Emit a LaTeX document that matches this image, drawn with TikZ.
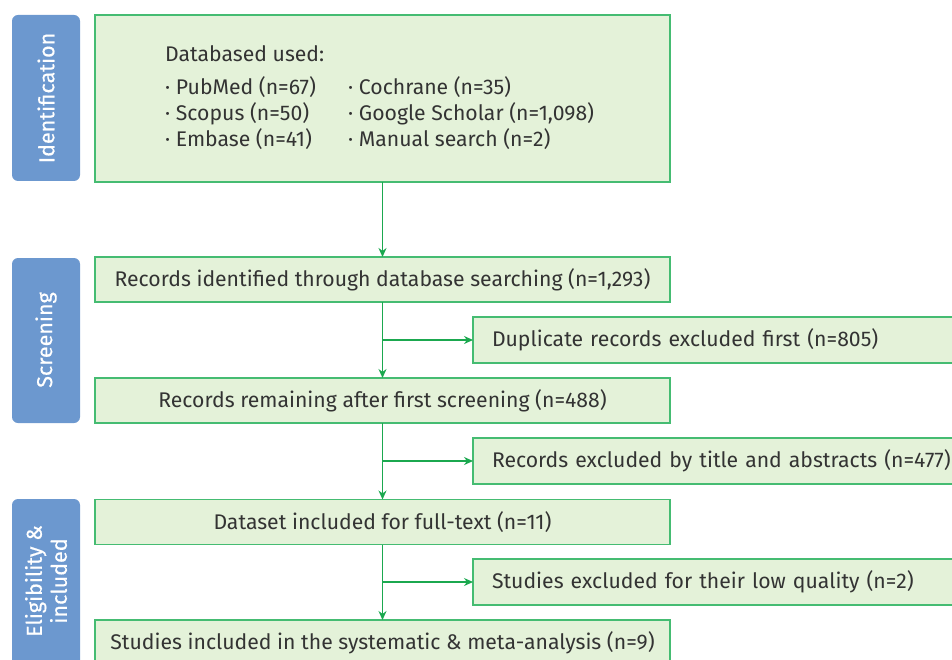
\documentclass[tikz,border=0pt]{standalone}
\usepackage{fontspec}
\setmainfont{Fira Sans}
\usetikzlibrary{arrows.meta}
\definecolor{boxfill}{HTML}{E4F2D9}
\definecolor{boxline}{HTML}{45BC72}
\definecolor{arrowc}{HTML}{1BA84F}
\definecolor{tabc}{HTML}{6C98CF}
\definecolor{txt}{HTML}{333333}
\tikzset{
  gbox/.style={draw=boxline, line width=1.8pt, fill=boxfill, text=txt, font=\fontsize{21.2}{25}\selectfont, inner sep=0pt, outer sep=0pt},
  tabbox/.style={fill=tabc, rounded corners=6pt, inner sep=0pt, outer sep=0pt},
  tabtxt/.style={text=white, font=\fontsize{21.5}{24}\selectfont\addfontfeature{FakeBold=0.4}, rotate=90, align=center},
  flow/.style={draw=arrowc, line width=1.4pt, -{Stealth[length=9pt,width=8pt]}},
  txtn/.style={text=txt, font=\fontsize{21.2}{25}\selectfont, inner sep=0pt, anchor=base west}
}
\begin{document}
\begin{tikzpicture}[x=1pt,y=-1pt]
\useasboundingbox (0,0) rectangle (952,660);
\clip (0,0) rectangle (952,660);
% tabs
\path[tabbox] (12,15) rectangle (80,181);
\node[tabtxt] (tid) at (46,98) {Identification};
\path[tabbox] (12,258) rectangle (80,423);
\node[tabtxt] (tsc) at (46,340) {Screening};
\path[tabbox] (12,499) rectangle (80,680);
\node[tabtxt, font=\fontsize{21.5}{25}\selectfont\addfontfeature{FakeBold=0.4}] (tel) at (46,581) {Eligibility \&\\included};
% identification box
\path[gbox] (95,15) rectangle (670,182);
\coordinate (idbot) at (382.5,182);
\node[txtn] (db) at (165,62) {Databased used:};
\node[txtn] (a1) at (165,95) {· PubMed (n=67)};
\node[txtn] (a2) at (165,121) {· Scopus (n=50)};
\node[txtn] (a3) at (165,147) {· Embase (n=41)};
\node[txtn] (b1) at (348,95) {· Cochrane (n=35)};
\node[txtn] (b2) at (348,121) {· Google Scholar (n=1,098)};
\node[txtn] (b3) at (348,147) {· Manual search (n=2)};
% main boxes
\node[gbox, minimum width=575pt, minimum height=45pt] (r1) at (382.5,279.5) {Records identified through database searching (n=1,293)};
\node[gbox, minimum width=575pt, minimum height=45pt] (r2) at (382.5,400.5) {Records remaining after first screening (n=488)};
\node[gbox, minimum width=575pt, minimum height=45pt] (r3) at (382.5,522) {Dataset included for full-text (n=11)};
\node[gbox, minimum width=575pt, minimum height=45pt] (r4) at (382.5,642.5) {Studies included in the systematic \& meta-analysis (n=9)};
% side boxes
\node[gbox, minimum width=500pt, minimum height=46pt, anchor=west, text width=500pt, align=left] (s1) at (473,340) {\hspace*{19pt}Duplicate records excluded first (n=805)};
\node[gbox, minimum width=500pt, minimum height=46pt, anchor=west, text width=500pt, align=left] (s2) at (473,461) {\hspace*{19pt}Records excluded by title and abstracts (n=477)};
\node[gbox, minimum width=500pt, minimum height=46pt, anchor=west, text width=500pt, align=left] (s3) at (473,582) {\hspace*{19pt}Studies excluded for their low quality (n=2)};
% connectors
\draw[flow] (idbot) -- (r1.north);
\draw[flow] (r1.south) -- (r2.north);
\draw[flow] (r2.south) -- (r3.north);
\draw[flow] (r3.south) -- (r4.north);
\coordinate (j1) at (382.5,340);
\coordinate (j2) at (382.5,461);
\coordinate (j3) at (382.5,582);
\draw[flow] (j1) -- (s1.west);
\draw[flow] (j2) -- (s2.west);
\draw[flow] (j3) -- (s3.west);
\end{tikzpicture}
\end{document}
